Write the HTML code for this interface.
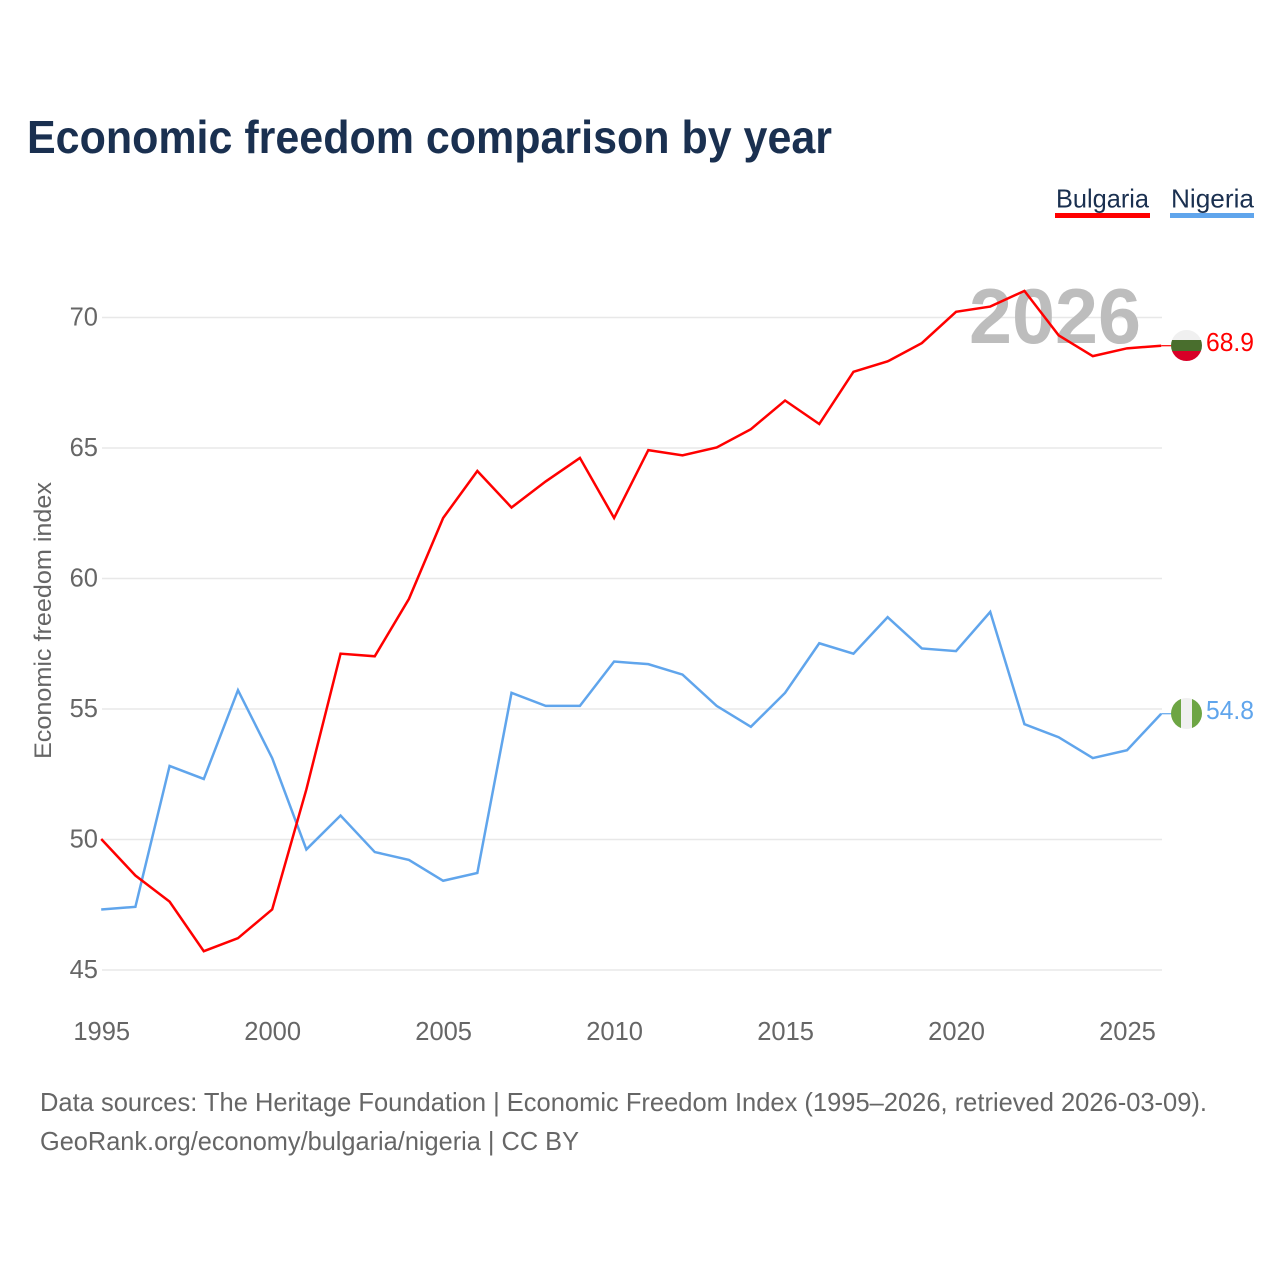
<!DOCTYPE html>
<html lang="en">
<head>
<meta charset="utf-8">
<title>Economic freedom comparison by year</title>
<style>
html,body{margin:0;padding:0;background:#fff;}
svg{display:block;font-family:"Liberation Sans",sans-serif;}
</style>
</head>
<body>
<svg id="chart" width="1280" height="1280" viewBox="0 0 1280 1280" xmlns="http://www.w3.org/2000/svg">
  <rect width="1280" height="1280" fill="#fff"/>
  <text x="27" y="153" font-size="46" font-weight="700" fill="#1a3050" textLength="805" lengthAdjust="spacingAndGlyphs">Economic freedom comparison by year</text>

  <g>
    <g>
      <text x="1056" y="207.5" font-size="26" fill="#1a3050" textLength="93" lengthAdjust="spacingAndGlyphs">Bulgaria</text>
      <rect x="1055" y="213" width="95" height="5" fill="#ff0000"/>
    </g>
    <g>
      <text x="1171" y="207.5" font-size="26" fill="#1a3050" textLength="83" lengthAdjust="spacingAndGlyphs">Nigeria</text>
      <rect x="1170" y="213" width="84" height="5" fill="#60a5ec"/>
    </g>
  </g>

  <g id="grid"></g>
  <text x="969" y="343" font-size="78" font-weight="700" fill="#bdbdbd" textLength="172" lengthAdjust="spacingAndGlyphs">2026</text>
  <g id="yticks"></g>
  <g id="xticks"></g>
  <text transform="translate(51,759) rotate(-90)" font-size="24" fill="#666" textLength="277" lengthAdjust="spacingAndGlyphs">Economic freedom index</text>

  <g id="series"></g>

  <defs>
    <clipPath id="flag-clip-bg"><circle cx="1186.5" cy="345.5" r="15.5"/></clipPath>
    <clipPath id="flag-clip-ng"><circle cx="1186.5" cy="713.5" r="15.5"/></clipPath>
  </defs>
  <g clip-path="url(#flag-clip-bg)">
    <rect x="1171" y="330" width="31" height="10.5" fill="#f0f0f0"/>
    <rect x="1171" y="340" width="31" height="11" fill="#496e2d"/>
    <rect x="1171" y="351" width="31" height="11" fill="#d80027"/>
  </g>
  <g clip-path="url(#flag-clip-ng)">
    <rect x="1171" y="698" width="10" height="31" fill="#6da544"/>
    <rect x="1181" y="698" width="11" height="31" fill="#f0f0f0"/>
    <rect x="1192" y="698" width="10" height="31" fill="#6da544"/>
  </g>
  <text id="val-bg" x="1206" y="351" font-size="25.5" fill="#ff0000" textLength="48" lengthAdjust="spacingAndGlyphs"></text>
  <text id="val-ng" x="1206" y="719" font-size="25.5" fill="#60a5ec" textLength="48" lengthAdjust="spacingAndGlyphs"></text>

  <text x="40" y="1111" font-size="26" fill="#666" textLength="1167" lengthAdjust="spacingAndGlyphs">Data sources: The Heritage Foundation | Economic Freedom Index (1995–2026, retrieved 2026-03-09).</text>
  <text x="40" y="1150" font-size="26" fill="#666" textLength="539" lengthAdjust="spacingAndGlyphs">GeoRank.org/economy/bulgaria/nigeria | CC BY</text>
</svg>
<script>
const firstYear = 1995;
const lastYear = 2026;
const bulgaria = [50.0,48.6,47.6,45.7,46.2,47.3,51.9,57.1,57.0,59.2,62.3,64.1,62.7,63.7,64.6,62.3,64.9,64.7,65.0,65.7,66.8,65.9,67.9,68.3,69.0,70.2,70.4,71.0,69.3,68.5,68.8,68.9];
const nigeria = [47.3,47.4,52.8,52.3,55.7,53.1,49.6,50.9,49.5,49.2,48.4,48.7,55.6,55.1,55.1,56.8,56.7,56.3,55.1,54.3,55.6,57.5,57.1,58.5,57.3,57.2,58.7,54.4,53.9,53.1,53.4,54.8];
const yTicks = [45,50,55,60,65,70];
const xTicks = [1995,2000,2005,2010,2015,2020,2025];

const NS = 'http://www.w3.org/2000/svg';
function xScale(year){ return 102 + (year - firstYear) * (1162 - 102) / (lastYear - firstYear); }
function yScale(v){ return 970 - (v - 45) * (970 - 317.5) / 25; }
function lineX(year){ return xScale(year) - 0.8; }
function lineY(v){ return yScale(v) - 0.5; }

const grid = document.getElementById('grid');
const yG = document.getElementById('yticks');
const xG = document.getElementById('xticks');
yTicks.forEach(function(t){
  const line = document.createElementNS(NS,'line');
  
  
  line.setAttribute('x1', xScale(firstYear));
  line.setAttribute('x2', xScale(lastYear));
  line.setAttribute('y1', yScale(t));
  line.setAttribute('y2', yScale(t));
  line.setAttribute('stroke', '#e8e8e8');
  line.setAttribute('stroke-width', '1.6');
  grid.appendChild(line);
  const label = document.createElementNS(NS,'text');
  
  
  label.setAttribute('x', 98);
  label.setAttribute('y', yScale(t) + 8);
  label.setAttribute('text-anchor', 'end');
  label.setAttribute('font-size', '25.5');
  label.setAttribute('fill', '#666');
  label.textContent = t;
  yG.appendChild(label);
});
xTicks.forEach(function(t){
  const label = document.createElementNS(NS,'text');
  
  
  label.setAttribute('x', xScale(t) - 0.3);
  label.setAttribute('y', 1040);
  label.setAttribute('text-anchor', 'middle');
  label.setAttribute('font-size', '25.5');
  label.setAttribute('fill', '#666');
  label.textContent = t;
  xG.appendChild(label);
});

function drawSeries(values, color, name){
  const g = document.getElementById('series');
  const pts = values.map(function(v,i){ return lineX(firstYear + i).toFixed(2) + ',' + lineY(v).toFixed(2); });
  const path = document.createElementNS(NS,'polyline');
  
  
  path.setAttribute('points', pts.join(' '));
  path.setAttribute('fill', 'none');
  path.setAttribute('stroke', color);
  path.setAttribute('stroke-width', '2.5');
  path.setAttribute('stroke-linejoin', 'miter');
  g.appendChild(path);
  const last = values[values.length - 1];
  const conn = document.createElementNS(NS,'line');
  
  
  conn.setAttribute('x1', lineX(lastYear));
  conn.setAttribute('x2', 1172);
  conn.setAttribute('y1', lineY(last));
  conn.setAttribute('y2', lineY(last));
  conn.setAttribute('stroke', color);
  conn.setAttribute('stroke-width', '1.2');
  g.appendChild(conn);
}
drawSeries(nigeria, '#60a5ec', 'nigeria');
drawSeries(bulgaria, '#ff0000', 'bulgaria');

document.getElementById('val-bg').textContent = bulgaria[bulgaria.length - 1].toFixed(1);
document.getElementById('val-ng').textContent = nigeria[nigeria.length - 1].toFixed(1);
</script>
</body>
</html>
